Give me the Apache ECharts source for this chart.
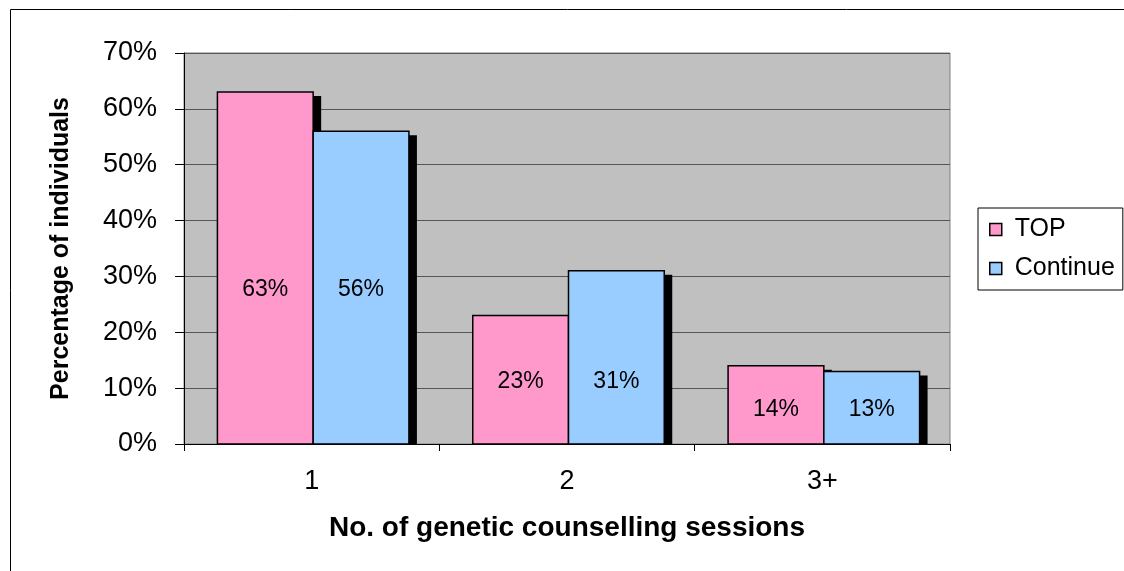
<!DOCTYPE html>
<html>
<head>
<meta charset="utf-8">
<style>html,body{margin:0;padding:0;background:#fff;}#c{width:1124px;height:571px;}</style>
<script src="https://cdn.jsdelivr.net/npm/echarts@6/dist/echarts.min.js"></script>
</head>
<body>
<div id="c"></div>
<script>
const categories = ['1', '2', '3+'];
const topValues = [63, 23, 14];
const continueValues = [56, 31, 13];
const yTicks = [0, 10, 20, 30, 40, 50, 60, 70];

const FONT = '"Liberation Sans", Arial, sans-serif';
const BAR_FRAC = 0.375;

function makeRender(values, side, color) {
  return function (params, api) {
    const i = params.dataIndex;
    const v = api.value(1);
    const c0 = api.coord([0, 0]);
    const c1 = api.coord([1, 0]);
    const band = c1[0] - c0[0];
    const barW = band * BAR_FRAC;
    const base = api.coord([i, 0]);
    const top = api.coord([i, v]);
    const x0 = (side === 0 ? base[0] - barW : base[0]) + 1.5;
    const h = base[1] - top[1];
    const minV = Math.min(topValues[i], continueValues[i]);
    const labelY = (base[1] + api.coord([i, minV])[1]) / 2 + 2;
    return {
      type: 'group',
      children: [
        { type: 'rect', shape: { x: x0 + 8, y: top[1] + 4, width: barW, height: h - 4 }, style: { fill: '#000' } },
        { type: 'rect', shape: { x: x0, y: top[1], width: barW, height: h }, style: { fill: color, stroke: '#000', lineWidth: 1.5 } },
        { type: 'text', style: { text: v + '%', x: x0 + barW / 2, y: labelY, align: 'center', verticalAlign: 'middle', fontSize: 23, fontFamily: FONT, fill: '#000' } }
      ]
    };
  };
}

const chart = echarts.init(document.getElementById('c'), null, { renderer: 'canvas' });
chart.setOption({
  backgroundColor: '#fff',
  animation: false,
  graphic: [{
    type: 'rect', z: -10, silent: true,
    shape: { x: 10.5, y: 9.5, width: 1200, height: 700 },
    style: { fill: 'transparent', stroke: '#000', lineWidth: 1 }
  }],
  grid: {
    left: 184, right: 174, top: 53, bottom: 127,
    show: true, backgroundColor: '#C0C0C0', borderColor: '#808080', borderWidth: 1
  },
  legend: {
    orient: 'vertical', left: 978, top: 208,
    backgroundColor: '#fff', borderColor: '#000', borderWidth: 1,
    padding: [9, 8, 9, 11], itemGap: 14, itemWidth: 12, itemHeight: 12,
    textStyle: { fontSize: 25, fontFamily: FONT, color: '#000', padding: [0, 0, 0, 8] },
    data: [
      { name: 'TOP', icon: 'rect', itemStyle: { color: '#FF99CC', borderColor: '#000', borderWidth: 1.5 } },
      { name: 'Continue', icon: 'rect', itemStyle: { color: '#99CCFF', borderColor: '#000', borderWidth: 1.5 } }
    ]
  },
  xAxis: {
    type: 'category', data: categories,
    name: 'No. of genetic counselling sessions', nameLocation: 'middle', nameGap: 70,
    nameTextStyle: { fontSize: 28, fontWeight: 'bold', fontFamily: FONT, color: '#000' },
    axisLine: { lineStyle: { color: '#000', width: 1 } },
    axisTick: { show: true, length: 7, lineStyle: { color: '#000' } },
    axisLabel: { fontSize: 27, fontFamily: FONT, color: '#000', margin: 24 },
    splitLine: { show: false }
  },
  yAxis: {
    type: 'value', min: yTicks[0], max: yTicks[yTicks.length - 1], interval: 10,
    name: 'Percentage of individuals', nameLocation: 'middle', nameGap: 110, nameRotate: 90,
    nameTextStyle: { fontSize: 25, fontWeight: 'bold', fontFamily: FONT, color: '#000' },
    axisLine: { show: true, lineStyle: { color: '#000', width: 1 } },
    axisTick: { show: true, length: 9, lineStyle: { color: '#000' } },
    axisLabel: { fontSize: 27, fontFamily: FONT, color: '#000', margin: 27, formatter: '{value}%' },
    splitLine: { show: true, lineStyle: { color: '#555', width: 1 } }
  },
  series: [
    {
      name: 'TOP', type: 'custom', color: '#FF99CC',
      renderItem: makeRender(topValues, 0, '#FF99CC'),
      data: topValues.map((v, i) => [i, v])
    },
    {
      name: 'Continue', type: 'custom', color: '#99CCFF',
      renderItem: makeRender(continueValues, 1, '#99CCFF'),
      data: continueValues.map((v, i) => [i, v])
    }
  ]
});
</script>
</body>
</html>
